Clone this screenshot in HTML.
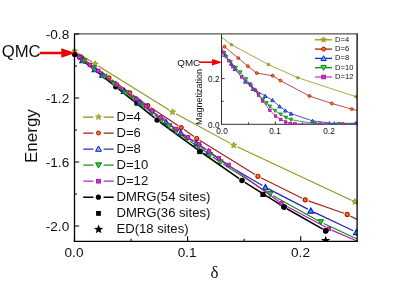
<!DOCTYPE html>
<html><head><meta charset="utf-8"><title>chart</title>
<style>
html,body{margin:0;padding:0;background:#fff;}
#c{position:relative;width:415px;height:290px;overflow:hidden;background:#fff;font-family:"Liberation Sans",sans-serif;color:#111;}
.t{position:absolute;white-space:nowrap;line-height:1.15;}
#tx{position:absolute;left:0;top:0;width:415px;height:290px;transform:translateZ(0);will-change:transform;}
</style></head><body><div id="c">
<svg width="415" height="290" viewBox="0 0 415 290" style="position:absolute;left:0;top:0">
<defs><clipPath id="cm"><rect x="72" y="34" width="285.5" height="207.8"/></clipPath><clipPath id="ci"><rect x="222" y="34" width="135.5" height="90.6"/></clipPath></defs>
<rect width="415" height="290" fill="#fff"/>
<g clip-path="url(#cm)"><path d="M77.48,56.59 L95.00,70.20 M95.00,70.20 L113.14,84.59 M118.45,88.83 L154.55,117.87 M159.94,122.01 L197.26,149.29 M202.79,153.24 L239.21,178.56 M244.88,182.31 L281.12,205.19 M286.95,208.69 L322.75,229.11" fill="none" stroke="#000" stroke-width="1.6"/><circle cx="115.80" cy="86.70" r="2.8" fill="#000" stroke="#000" stroke-width="0"/><circle cx="157.20" cy="120.00" r="2.8" fill="#000" stroke="#000" stroke-width="0"/><circle cx="200.00" cy="151.30" r="2.8" fill="#000" stroke="#000" stroke-width="0"/><circle cx="242.00" cy="180.50" r="2.8" fill="#000" stroke="#000" stroke-width="0"/><circle cx="284.00" cy="207.00" r="2.8" fill="#000" stroke="#000" stroke-width="0"/><circle cx="325.70" cy="230.80" r="2.8" fill="#000" stroke="#000" stroke-width="0"/><rect x="134.40" y="100.40" width="5.20" height="5.20" fill="#000" stroke="#000" stroke-width="0"/><rect x="197.20" y="148.90" width="5.20" height="5.20" fill="#000" stroke="#000" stroke-width="0"/><rect x="260.40" y="191.80" width="5.20" height="5.20" fill="#000" stroke="#000" stroke-width="0"/><polygon points="325.70,235.70 326.91,238.94 330.36,239.09 327.66,241.24 328.58,244.56 325.70,242.66 322.82,244.56 323.74,241.24 321.04,239.09 324.49,238.94" fill="#000" stroke="#000" stroke-width="0"/><path d="M77.71,53.03 L91.89,61.97 M98.33,66.00 L169.27,110.00 M175.84,113.81 L230.36,143.39 M237.14,146.81 L351.46,200.19" fill="none" stroke="#93931e" stroke-width="1.1"/><polygon points="74.50,47.80 75.29,49.91 77.54,50.01 75.78,51.42 76.38,53.59 74.50,52.34 72.62,53.59 73.22,51.42 71.46,50.01 73.71,49.91" fill="#b0b028" stroke="#93931e" stroke-width="0.9"/><polygon points="95.10,60.80 95.89,62.91 98.14,63.01 96.38,64.42 96.98,66.59 95.10,65.34 93.22,66.59 93.82,64.42 92.06,63.01 94.31,62.91" fill="#b0b028" stroke="#93931e" stroke-width="0.9"/><polygon points="172.50,108.80 173.29,110.91 175.54,111.01 173.78,112.42 174.38,114.59 172.50,113.34 170.62,114.59 171.22,112.42 169.46,111.01 171.71,110.91" fill="#b0b028" stroke="#93931e" stroke-width="0.9"/><polygon points="233.70,142.00 234.49,144.11 236.74,144.21 234.98,145.62 235.58,147.79 233.70,146.54 231.82,147.79 232.42,145.62 230.66,144.21 232.91,144.11" fill="#b0b028" stroke="#93931e" stroke-width="0.9"/><polygon points="354.90,198.60 355.69,200.71 357.94,200.81 356.18,202.22 356.78,204.39 354.90,203.14 353.02,204.39 353.62,202.22 351.86,200.81 354.11,200.71" fill="#b0b028" stroke="#93931e" stroke-width="0.9"/><path d="M77.34,54.87 L78.66,55.73 M84.24,59.61 L106.26,75.79 M111.75,79.80 L126.95,90.80 M132.48,94.76 L145.02,103.64 M150.64,107.47 L178.36,125.73 M183.98,129.56 L193.92,136.54 M199.59,140.28 L255.01,174.42 M260.94,177.72 L302.16,198.28 M308.41,200.92 L343.99,213.28 M350.24,215.93 L357.50,219.60" fill="none" stroke="#a42222" stroke-width="1.2"/><circle cx="81.50" cy="57.60" r="2.0" fill="#ff7a08" stroke="#b01408" stroke-width="1.15"/><circle cx="109.00" cy="77.80" r="2.0" fill="#ff7a08" stroke="#b01408" stroke-width="1.15"/><circle cx="129.70" cy="92.80" r="2.0" fill="#ff7a08" stroke="#b01408" stroke-width="1.15"/><circle cx="147.80" cy="105.60" r="2.0" fill="#ff7a08" stroke="#b01408" stroke-width="1.15"/><circle cx="181.20" cy="127.60" r="2.0" fill="#ff7a08" stroke="#b01408" stroke-width="1.15"/><circle cx="196.70" cy="138.50" r="2.0" fill="#ff7a08" stroke="#b01408" stroke-width="1.15"/><circle cx="257.90" cy="176.20" r="2.0" fill="#ff7a08" stroke="#b01408" stroke-width="1.15"/><circle cx="305.20" cy="199.80" r="2.0" fill="#ff7a08" stroke="#b01408" stroke-width="1.15"/><circle cx="347.20" cy="214.40" r="2.0" fill="#ff7a08" stroke="#b01408" stroke-width="1.15"/><path d="M77.23,56.23 L79.97,58.27 M85.45,62.31 L92.25,67.28 M97.73,71.31 L99.77,72.81 M105.23,76.86 L121.47,88.93 M126.94,92.97 L137.26,100.52 M142.71,104.58 L163.29,120.12 M168.74,124.18 L177.96,130.97 M183.54,134.87 L193.56,141.49 M199.20,145.30 L205.70,149.81 M211.29,153.69 L228.20,165.49 M228.20,165.49 L262.47,185.58 M268.42,188.86 L307.78,209.14 M313.88,212.15 L353.32,230.75" fill="none" stroke="#2424b8" stroke-width="1.2"/><polygon points="82.70,57.50 79.76,62.77 85.64,62.77" fill="#18a4ff" stroke="#1616b4" stroke-width="1.1"/><polygon points="95.00,66.49 92.06,71.76 97.94,71.76" fill="#18a4ff" stroke="#1616b4" stroke-width="1.1"/><polygon points="102.50,72.03 99.56,77.30 105.44,77.30" fill="#18a4ff" stroke="#1616b4" stroke-width="1.1"/><polygon points="124.20,88.16 121.26,93.43 127.14,93.43" fill="#18a4ff" stroke="#1616b4" stroke-width="1.1"/><polygon points="140.00,99.73 137.06,105.00 142.94,105.00" fill="#18a4ff" stroke="#1616b4" stroke-width="1.1"/><polygon points="166.00,119.37 163.06,124.64 168.94,124.64" fill="#18a4ff" stroke="#1616b4" stroke-width="1.1"/><polygon points="180.70,130.19 177.75,135.46 183.64,135.46" fill="#18a4ff" stroke="#1616b4" stroke-width="1.1"/><polygon points="196.40,140.57 193.46,145.84 199.34,145.84" fill="#18a4ff" stroke="#1616b4" stroke-width="1.1"/><polygon points="208.50,148.95 205.56,154.22 211.44,154.22" fill="#18a4ff" stroke="#1616b4" stroke-width="1.1"/><polygon points="265.40,184.50 262.45,189.77 268.34,189.77" fill="#18a4ff" stroke="#1616b4" stroke-width="1.1"/><polygon points="310.80,207.90 307.86,213.17 313.75,213.17" fill="#18a4ff" stroke="#1616b4" stroke-width="1.1"/><polygon points="356.40,229.40 353.45,234.67 359.34,234.67" fill="#18a4ff" stroke="#1616b4" stroke-width="1.1"/><path d="M86.71,63.14 L90.79,66.21 M96.20,70.32 L101.70,74.50 M107.09,78.65 L111.11,81.76 M116.51,85.90 L123.29,91.03 M128.72,95.12 L131.28,97.05 M136.70,101.16 L140.80,104.29 M146.20,108.42 L149.30,110.80 M154.66,114.98 L158.94,118.36 M164.30,122.54 L166.30,124.06 M171.70,128.19 L173.30,129.42 M178.77,133.45 L184.23,137.33 M189.86,141.15 L195.74,144.94 M201.36,148.77 L207.04,152.84 M212.57,156.79 L217.53,160.29 M223.17,164.08 L267.33,192.18 M273.17,195.65 L317.73,220.45 M323.78,223.54 L357.50,239.30" fill="none" stroke="#128c12" stroke-width="1.2"/><polygon points="79.00,59.99 76.15,54.89 81.85,54.89" fill="#20d030" stroke="#0a7c0a" stroke-width="1.0"/><polygon points="84.00,63.79 81.15,58.69 86.85,58.69" fill="#20d030" stroke="#0a7c0a" stroke-width="1.0"/><polygon points="93.50,70.96 90.65,65.86 96.35,65.86" fill="#20d030" stroke="#0a7c0a" stroke-width="1.0"/><polygon points="104.40,79.27 101.55,74.17 107.25,74.17" fill="#20d030" stroke="#0a7c0a" stroke-width="1.0"/><polygon points="113.80,86.55 110.95,81.45 116.65,81.45" fill="#20d030" stroke="#0a7c0a" stroke-width="1.0"/><polygon points="126.00,95.78 123.15,90.68 128.85,90.68" fill="#20d030" stroke="#0a7c0a" stroke-width="1.0"/><polygon points="134.00,101.79 131.15,96.69 136.85,96.69" fill="#20d030" stroke="#0a7c0a" stroke-width="1.0"/><polygon points="143.50,109.05 140.65,103.95 146.35,103.95" fill="#20d030" stroke="#0a7c0a" stroke-width="1.0"/><polygon points="152.00,115.57 149.15,110.47 154.85,110.47" fill="#20d030" stroke="#0a7c0a" stroke-width="1.0"/><polygon points="161.60,123.17 158.75,118.07 164.45,118.07" fill="#20d030" stroke="#0a7c0a" stroke-width="1.0"/><polygon points="169.00,128.83 166.15,123.73 171.85,123.73" fill="#20d030" stroke="#0a7c0a" stroke-width="1.0"/><polygon points="176.00,134.18 173.15,129.08 178.85,129.08" fill="#20d030" stroke="#0a7c0a" stroke-width="1.0"/><polygon points="187.00,142.00 184.15,136.90 189.85,136.90" fill="#20d030" stroke="#0a7c0a" stroke-width="1.0"/><polygon points="198.60,149.48 195.75,144.38 201.45,144.38" fill="#20d030" stroke="#0a7c0a" stroke-width="1.0"/><polygon points="209.80,157.52 206.95,152.42 212.65,152.42" fill="#20d030" stroke="#0a7c0a" stroke-width="1.0"/><polygon points="220.30,164.96 217.45,159.86 223.15,159.86" fill="#20d030" stroke="#0a7c0a" stroke-width="1.0"/><polygon points="270.20,196.70 267.35,191.60 273.05,191.60" fill="#20d030" stroke="#0a7c0a" stroke-width="1.0"/><polygon points="320.70,224.80 317.85,219.70 323.55,219.70" fill="#20d030" stroke="#0a7c0a" stroke-width="1.0"/><path d="M81.88,59.00 L87.32,63.00 M92.49,66.77 L95.61,69.03 M100.76,72.82 L114.14,82.88 M119.29,86.68 L133.61,97.12 M138.77,100.91 L143.43,104.39 M148.57,108.21 L149.63,108.99 M154.73,112.86 L158.07,115.44 M163.16,119.33 L173.44,127.07 M178.62,130.84 L185.38,135.56 M190.71,139.10 L196.29,142.60 M201.61,146.15 L206.39,149.55 M211.63,153.23 L216.27,156.47 M221.52,160.13 L225.88,163.17 M231.09,166.88 L278.81,201.52 M284.22,204.91 L325.98,227.29 M331.73,230.08 L357.50,241.30" fill="none" stroke="#ac20ac" stroke-width="1.2"/><rect x="77.50" y="55.30" width="3.60" height="3.60" fill="#e020e0" stroke="#8c108c" stroke-width="0.8"/><rect x="88.10" y="63.10" width="3.60" height="3.60" fill="#e020e0" stroke="#8c108c" stroke-width="0.8"/><rect x="96.40" y="69.10" width="3.60" height="3.60" fill="#e020e0" stroke="#8c108c" stroke-width="0.8"/><rect x="114.90" y="83.00" width="3.60" height="3.60" fill="#e020e0" stroke="#8c108c" stroke-width="0.8"/><rect x="134.40" y="97.20" width="3.60" height="3.60" fill="#e020e0" stroke="#8c108c" stroke-width="0.8"/><rect x="144.20" y="104.50" width="3.60" height="3.60" fill="#e020e0" stroke="#8c108c" stroke-width="0.8"/><rect x="150.40" y="109.10" width="3.60" height="3.60" fill="#e020e0" stroke="#8c108c" stroke-width="0.8"/><rect x="158.80" y="115.60" width="3.60" height="3.60" fill="#e020e0" stroke="#8c108c" stroke-width="0.8"/><rect x="174.20" y="127.20" width="3.60" height="3.60" fill="#e020e0" stroke="#8c108c" stroke-width="0.8"/><rect x="186.20" y="135.60" width="3.60" height="3.60" fill="#e020e0" stroke="#8c108c" stroke-width="0.8"/><rect x="197.20" y="142.50" width="3.60" height="3.60" fill="#e020e0" stroke="#8c108c" stroke-width="0.8"/><rect x="207.20" y="149.60" width="3.60" height="3.60" fill="#e020e0" stroke="#8c108c" stroke-width="0.8"/><rect x="217.10" y="156.50" width="3.60" height="3.60" fill="#e020e0" stroke="#8c108c" stroke-width="0.8"/><rect x="226.70" y="163.20" width="3.60" height="3.60" fill="#e020e0" stroke="#8c108c" stroke-width="0.8"/><rect x="279.60" y="201.60" width="3.60" height="3.60" fill="#e020e0" stroke="#8c108c" stroke-width="0.8"/><rect x="327.00" y="227.00" width="3.60" height="3.60" fill="#e020e0" stroke="#8c108c" stroke-width="0.8"/><circle cx="74.80" cy="54.50" r="2.8" fill="#000" stroke="#000" stroke-width="0"/><circle cx="284.00" cy="207.00" r="2.8" fill="#000" stroke="#000" stroke-width="0"/><circle cx="325.70" cy="230.80" r="2.8" fill="#000" stroke="#000" stroke-width="0"/></g>
<rect x="222" y="34" width="135" height="90" fill="#fff"/>
<path d="M221.5,34 V124.8 M221,124.3 H357" stroke="#333" stroke-width="1" fill="none"/>
<path d="M221.6,101.3 h2 M221.6,78.6 h3 M221.6,55.9 h2 M248.4,124.3 v-2 M275.4,124.3 v-3 M302.4,124.3 v-2 M329.3,124.3 v-3" stroke="#222" stroke-width="0.9" fill="none"/>
<g clip-path="url(#ci)"><path d="M221.50,37.20 L231.40,44.70 M231.40,44.70 L268.40,64.50 M268.40,64.50 L297.80,77.70 M297.80,77.70 L355.90,96.70 M355.90,96.70 L358.00,97.30" fill="none" stroke="#93931e" stroke-width="0.8"/><polygon points="231.40,42.70 231.99,43.89 233.30,44.08 232.35,45.01 232.58,46.32 231.40,45.70 230.22,46.32 230.45,45.01 229.50,44.08 230.81,43.89" fill="#93931e" stroke="#93931e" stroke-width="0.4"/><polygon points="268.40,62.50 268.99,63.69 270.30,63.88 269.35,64.81 269.58,66.12 268.40,65.50 267.22,66.12 267.45,64.81 266.50,63.88 267.81,63.69" fill="#93931e" stroke="#93931e" stroke-width="0.4"/><polygon points="297.80,75.70 298.39,76.89 299.70,77.08 298.75,78.01 298.98,79.32 297.80,78.70 296.62,79.32 296.85,78.01 295.90,77.08 297.21,76.89" fill="#93931e" stroke="#93931e" stroke-width="0.4"/><polygon points="355.90,94.70 356.49,95.89 357.80,96.08 356.85,97.01 357.08,98.32 355.90,97.70 354.72,98.32 354.95,97.01 354.00,96.08 355.31,95.89" fill="#93931e" stroke="#93931e" stroke-width="0.4"/><path d="M221.50,48.80 L224.50,46.70 M224.50,46.70 L238.30,58.10 M238.30,58.10 L247.80,66.20 M247.80,66.20 L256.80,73.10 M256.80,73.10 L272.70,75.70 M272.70,75.70 L280.40,80.60 M280.40,80.60 L309.40,96.00 M309.40,96.00 L331.90,103.50 M331.90,103.50 L351.70,109.10 M351.70,109.10 L357.50,110.60" fill="none" stroke="#a42222" stroke-width="0.8"/><circle cx="224.50" cy="46.70" r="1.45" fill="#ff7a08" stroke="#b01408" stroke-width="0.8"/><circle cx="238.30" cy="58.10" r="1.45" fill="#ff7a08" stroke="#b01408" stroke-width="0.8"/><circle cx="247.80" cy="66.20" r="1.45" fill="#ff7a08" stroke="#b01408" stroke-width="0.8"/><circle cx="256.80" cy="73.10" r="1.45" fill="#ff7a08" stroke="#b01408" stroke-width="0.8"/><circle cx="272.70" cy="75.70" r="1.45" fill="#ff7a08" stroke="#b01408" stroke-width="0.8"/><circle cx="280.40" cy="80.60" r="1.45" fill="#ff7a08" stroke="#b01408" stroke-width="0.8"/><circle cx="309.40" cy="96.00" r="1.45" fill="#ff7a08" stroke="#b01408" stroke-width="0.8"/><circle cx="331.90" cy="103.50" r="1.45" fill="#ff7a08" stroke="#b01408" stroke-width="0.8"/><circle cx="351.70" cy="109.10" r="1.45" fill="#ff7a08" stroke="#b01408" stroke-width="0.8"/><path d="M221.50,48.50 L225.41,55.26 M225.41,55.26 L231.20,63.75 M231.20,63.75 L234.87,68.84 M234.87,68.84 L245.22,81.61 M245.22,81.61 L252.87,88.88 M252.87,88.88 L265.16,95.93 M265.16,95.93 L272.54,100.14 M272.54,100.14 L279.60,106.40 M279.60,106.40 L285.37,110.58 M285.37,110.58 L291.03,113.61 M291.03,113.61 L312.59,120.90 M312.59,120.90 L334.42,123.48 M334.42,123.48 L355.98,123.20" fill="none" stroke="#2424b8" stroke-width="0.8"/><polygon points="225.41,53.56 223.60,56.79 227.21,56.79" fill="#18a4ff" stroke="#1616b4" stroke-width="0.8"/><polygon points="231.20,62.05 229.40,65.28 233.01,65.28" fill="#18a4ff" stroke="#1616b4" stroke-width="0.8"/><polygon points="234.87,67.14 233.06,70.37 236.67,70.37" fill="#18a4ff" stroke="#1616b4" stroke-width="0.8"/><polygon points="245.22,79.91 243.41,83.14 247.02,83.14" fill="#18a4ff" stroke="#1616b4" stroke-width="0.8"/><polygon points="252.87,87.18 251.06,90.41 254.67,90.41" fill="#18a4ff" stroke="#1616b4" stroke-width="0.8"/><polygon points="265.16,94.23 263.35,97.46 266.96,97.46" fill="#18a4ff" stroke="#1616b4" stroke-width="0.8"/><polygon points="272.54,98.44 270.74,101.67 274.35,101.67" fill="#18a4ff" stroke="#1616b4" stroke-width="0.8"/><polygon points="279.60,104.70 277.80,107.93 281.41,107.93" fill="#18a4ff" stroke="#1616b4" stroke-width="0.8"/><polygon points="285.37,108.88 283.57,112.11 287.18,112.11" fill="#18a4ff" stroke="#1616b4" stroke-width="0.8"/><polygon points="291.03,111.91 289.23,115.14 292.84,115.14" fill="#18a4ff" stroke="#1616b4" stroke-width="0.8"/><polygon points="312.59,119.20 310.79,122.43 314.40,122.43" fill="#18a4ff" stroke="#1616b4" stroke-width="0.8"/><polygon points="334.42,121.78 332.62,125.01 336.23,125.01" fill="#18a4ff" stroke="#1616b4" stroke-width="0.8"/><polygon points="355.98,121.50 354.18,124.73 357.79,124.73" fill="#18a4ff" stroke="#1616b4" stroke-width="0.8"/><path d="M221.50,48.50 L223.64,52.79 M223.64,52.79 L226.03,56.71 M226.03,56.71 L230.55,62.06 M230.55,62.06 L235.75,67.65 M235.75,67.65 L240.23,72.33 M240.23,72.33 L246.04,79.18 M246.04,79.18 L249.86,84.27 M249.86,84.27 L254.38,89.74 M254.38,89.74 L258.43,94.36 M258.43,94.36 L263.01,99.56 M263.01,99.56 L266.54,103.14 M266.54,103.14 L269.87,106.47 M269.87,106.47 L275.11,110.80 M275.11,110.80 L280.64,114.43 M280.64,114.43 L285.98,117.63 M285.98,117.63 L290.98,119.68 M290.98,119.68 L314.75,123.61 M314.75,123.61 L338.84,123.91 M338.84,123.91 L357.50,124.00" fill="none" stroke="#128c12" stroke-width="0.8"/><polygon points="223.64,54.49 221.84,51.26 225.45,51.26" fill="#20d030" stroke="#0a7c0a" stroke-width="0.7"/><polygon points="226.03,58.41 224.22,55.18 227.83,55.18" fill="#20d030" stroke="#0a7c0a" stroke-width="0.7"/><polygon points="230.55,63.76 228.75,60.53 232.36,60.53" fill="#20d030" stroke="#0a7c0a" stroke-width="0.7"/><polygon points="235.75,69.35 233.94,66.12 237.55,66.12" fill="#20d030" stroke="#0a7c0a" stroke-width="0.7"/><polygon points="240.23,74.03 238.42,70.80 242.03,70.80" fill="#20d030" stroke="#0a7c0a" stroke-width="0.7"/><polygon points="246.04,80.88 244.24,77.65 247.85,77.65" fill="#20d030" stroke="#0a7c0a" stroke-width="0.7"/><polygon points="249.86,85.97 248.05,82.74 251.66,82.74" fill="#20d030" stroke="#0a7c0a" stroke-width="0.7"/><polygon points="254.38,91.44 252.58,88.21 256.19,88.21" fill="#20d030" stroke="#0a7c0a" stroke-width="0.7"/><polygon points="258.43,96.06 256.63,92.83 260.24,92.83" fill="#20d030" stroke="#0a7c0a" stroke-width="0.7"/><polygon points="263.01,101.26 261.20,98.03 264.81,98.03" fill="#20d030" stroke="#0a7c0a" stroke-width="0.7"/><polygon points="266.54,104.84 264.73,101.61 268.34,101.61" fill="#20d030" stroke="#0a7c0a" stroke-width="0.7"/><polygon points="269.87,108.17 268.07,104.94 271.68,104.94" fill="#20d030" stroke="#0a7c0a" stroke-width="0.7"/><polygon points="275.11,112.50 273.31,109.27 276.92,109.27" fill="#20d030" stroke="#0a7c0a" stroke-width="0.7"/><polygon points="280.64,116.13 278.84,112.90 282.45,112.90" fill="#20d030" stroke="#0a7c0a" stroke-width="0.7"/><polygon points="285.98,119.33 284.17,116.10 287.78,116.10" fill="#20d030" stroke="#0a7c0a" stroke-width="0.7"/><polygon points="290.98,121.38 289.18,118.15 292.79,118.15" fill="#20d030" stroke="#0a7c0a" stroke-width="0.7"/><polygon points="314.75,125.31 312.94,122.08 316.55,122.08" fill="#20d030" stroke="#0a7c0a" stroke-width="0.7"/><polygon points="338.84,125.61 337.04,122.38 340.65,122.38" fill="#20d030" stroke="#0a7c0a" stroke-width="0.7"/><path d="M221.50,48.50 L223.79,52.66 M223.79,52.66 L228.84,60.67 M228.84,60.67 L232.79,66.69 M232.79,66.69 L241.61,76.95 M241.61,76.95 L250.90,85.12 M250.90,85.12 L255.57,90.51 M255.57,90.51 L258.53,95.22 M258.53,95.22 L262.53,100.95 M262.53,100.95 L269.87,110.33 M269.87,110.33 L275.59,116.01 M275.59,116.01 L280.83,119.49 M280.83,119.49 L285.60,122.00 M285.60,122.00 L290.32,123.47 M290.32,123.47 L294.89,123.96 M294.89,123.96 L320.10,124.00 M320.10,124.00 L342.69,124.00 M342.69,124.00 L357.50,124.00" fill="none" stroke="#ac20ac" stroke-width="0.8"/><rect x="222.49" y="51.36" width="2.60" height="2.60" fill="#e020e0" stroke="#8c108c" stroke-width="0.6"/><rect x="227.54" y="59.37" width="2.60" height="2.60" fill="#e020e0" stroke="#8c108c" stroke-width="0.6"/><rect x="231.49" y="65.39" width="2.60" height="2.60" fill="#e020e0" stroke="#8c108c" stroke-width="0.6"/><rect x="240.31" y="75.65" width="2.60" height="2.60" fill="#e020e0" stroke="#8c108c" stroke-width="0.6"/><rect x="249.60" y="83.82" width="2.60" height="2.60" fill="#e020e0" stroke="#8c108c" stroke-width="0.6"/><rect x="254.27" y="89.21" width="2.60" height="2.60" fill="#e020e0" stroke="#8c108c" stroke-width="0.6"/><rect x="257.23" y="93.92" width="2.60" height="2.60" fill="#e020e0" stroke="#8c108c" stroke-width="0.6"/><rect x="261.23" y="99.65" width="2.60" height="2.60" fill="#e020e0" stroke="#8c108c" stroke-width="0.6"/><rect x="268.57" y="109.03" width="2.60" height="2.60" fill="#e020e0" stroke="#8c108c" stroke-width="0.6"/><rect x="274.29" y="114.71" width="2.60" height="2.60" fill="#e020e0" stroke="#8c108c" stroke-width="0.6"/><rect x="279.53" y="118.19" width="2.60" height="2.60" fill="#e020e0" stroke="#8c108c" stroke-width="0.6"/><rect x="284.30" y="120.70" width="2.60" height="2.60" fill="#e020e0" stroke="#8c108c" stroke-width="0.6"/><rect x="289.02" y="122.17" width="2.60" height="2.60" fill="#e020e0" stroke="#8c108c" stroke-width="0.6"/><rect x="293.59" y="122.66" width="2.60" height="2.60" fill="#e020e0" stroke="#8c108c" stroke-width="0.6"/><rect x="318.80" y="122.70" width="2.60" height="2.60" fill="#e020e0" stroke="#8c108c" stroke-width="0.6"/><rect x="341.39" y="122.70" width="2.60" height="2.60" fill="#e020e0" stroke="#8c108c" stroke-width="0.6"/></g>
<g stroke="#000" stroke-width="1.3" fill="none">
<path d="M74.5,33.3 V241.9"/>
<path d="M73.8,241.4 H357.8"/>
<path d="M357.1,241.9 V33.3"/>
</g>
<path d="M74,33.8 H357.8" stroke="#555" stroke-width="1.2" fill="none"/>
<path d="M74.5,34.0 h4.7 M74.5,66.0 h2.5 M74.5,98.0 h4.7 M74.5,130.0 h2.5 M74.5,162.0 h4.7 M74.5,194.0 h2.5 M74.5,226.0 h4.7 M74.5,241.4 v-5.1 M131.1,241.4 v-2.7 M187.6,241.4 v-5.1 M244.2,241.4 v-2.7 M300.7,241.4 v-5.1" stroke="#000" stroke-width="1.1" fill="none"/>
<path d="M39.8,53 H63" stroke="#f00000" stroke-width="2.5"/><polygon points="61.3,48.3 75.6,53 61.3,57.7" fill="#f00000"/>
<path d="M199,62.2 H214" stroke="#f00000" stroke-width="1.6"/><polygon points="212,58.9 222.3,62.2 212,65.5" fill="#f00000"/>
<path d="M83.2,117.0 H93.4 M103.6,117.0 H113.7" stroke="#8c8c18" stroke-width="1.25"/><polygon points="98.50,113.90 99.27,115.95 101.45,116.04 99.74,117.40 100.32,119.51 98.50,118.30 96.68,119.51 97.26,117.40 95.55,116.04 97.73,115.95" fill="#b0b028" stroke="#93931e" stroke-width="0.8"/>
<path d="M83.2,133.0 H93.4 M103.6,133.0 H113.7" stroke="#a82020" stroke-width="1.25"/><circle cx="98.50" cy="133.00" r="2.0" fill="#ff7a08" stroke="#b01408" stroke-width="1.0"/>
<path d="M83.2,149.0 H93.4 M103.6,149.0 H113.7" stroke="#3030c0" stroke-width="1.25"/><polygon points="98.50,146.00 95.56,151.27 101.44,151.27" fill="#7cc8ff" stroke="#1616b4" stroke-width="1.0"/>
<path d="M83.2,165.0 H93.4 M103.6,165.0 H113.7" stroke="#169416" stroke-width="1.25"/><polygon points="98.50,168.10 95.56,162.83 101.44,162.83" fill="#30d040" stroke="#0a7c0a" stroke-width="1.0"/>
<path d="M83.2,181.2 H93.4 M103.6,181.2 H113.7" stroke="#b824b8" stroke-width="1.25"/><rect x="96.60" y="179.30" width="3.80" height="3.80" fill="#e020e0" stroke="#8c108c" stroke-width="0.8"/>
<path d="M83.2,197.2 H93.4 M103.6,197.2 H113.7" stroke="#000" stroke-width="1.5"/><circle cx="98.40" cy="197.20" r="2.6" fill="#000" stroke="#000" stroke-width="0"/>
<rect x="96.10" y="211.00" width="4.80" height="4.80" fill="#000" stroke="#000" stroke-width="0"/>
<polygon points="98.60,224.50 99.81,227.74 103.26,227.89 100.56,230.04 101.48,233.36 98.60,231.46 95.72,233.36 96.64,230.04 93.94,227.89 97.39,227.74" fill="#000" stroke="#000" stroke-width="0"/>
<path d="M315,39.8 H332" stroke="#93931e" stroke-width="1.3"/><polygon points="323.60,36.70 324.37,38.75 326.55,38.84 324.84,40.20 325.42,42.31 323.60,41.10 321.78,42.31 322.36,40.20 320.65,38.84 322.83,38.75" fill="#a0a020" stroke="#93931e" stroke-width="0.6"/>
<path d="M315,49.1 H332" stroke="#a42222" stroke-width="1.3"/><circle cx="323.60" cy="49.10" r="2.0" fill="#ff7a08" stroke="#b01408" stroke-width="1.0"/>
<path d="M315,58.4 H332" stroke="#2424b8" stroke-width="1.3"/><polygon points="323.60,55.70 320.85,60.63 326.36,60.63" fill="#35c8ff" stroke="#2424b8" stroke-width="1.0"/>
<path d="M315,67.7 H332" stroke="#128c12" stroke-width="1.3"/><polygon points="323.60,70.40 320.85,65.47 326.36,65.47" fill="#40e040" stroke="#128c12" stroke-width="1.0"/>
<path d="M315,77.0 H332" stroke="#c048c0" stroke-width="1.3"/><rect x="321.80" y="75.20" width="3.60" height="3.60" fill="#e828e8" stroke="#9c109c" stroke-width="0.9"/>
</svg>
<div id="tx">
<div class="t" style="left:1.7px;top:41.9px;font-size:16.7px;">QMC</div>
<div class="t" style="right:345.8px;top:26.8px;font-size:13.6px;">-0.8</div>
<div class="t" style="right:345.8px;top:90.8px;font-size:13.6px;">-1.2</div>
<div class="t" style="right:345.8px;top:154.8px;font-size:13.6px;">-1.6</div>
<div class="t" style="right:345.8px;top:218.8px;font-size:13.6px;">-2.0</div>
<div class="t" style="left:74.0px;top:245.4px;font-size:13.6px;transform:translateX(-50%);">0.0</div>
<div class="t" style="left:187.1px;top:245.4px;font-size:13.6px;transform:translateX(-50%);">0.1</div>
<div class="t" style="left:300.5px;top:245.4px;font-size:13.6px;transform:translateX(-50%);">0.2</div>
<div class="t" style="left:116.5px;top:109.0px;font-size:13.1px;">D=4</div>
<div class="t" style="left:116.5px;top:125.0px;font-size:13.1px;">D=6</div>
<div class="t" style="left:116.5px;top:141.1px;font-size:13.1px;">D=8</div>
<div class="t" style="left:116.5px;top:157.2px;font-size:13.1px;">D=10</div>
<div class="t" style="left:116.5px;top:173.2px;font-size:13.1px;">D=12</div>
<div class="t" style="left:116.5px;top:189.2px;font-size:13.1px;">DMRG(54 sites)</div>
<div class="t" style="left:116.5px;top:205.2px;font-size:13.1px;">DMRG(36 sites)</div>
<div class="t" style="left:116.5px;top:221.3px;font-size:13.1px;">ED(18 sites)</div>
<div class="t" style="left:210.5px;top:263.4px;font-size:17px;font-family:'Liberation Serif',serif">δ</div>
<div class="t" style="left:22.2px;top:163px;font-size:17px;transform-origin:0 0;transform:rotate(-90deg)">Energy</div>
<div class="t" style="left:177.3px;top:56.7px;font-size:9.8px;">QMC</div>
<div class="t" style="right:195.2px;top:72.68px;font-size:9.8px;transform-origin:100% 50%;transform:scaleX(0.85);">0.2</div>
<div class="t" style="right:195.2px;top:119.18px;font-size:9.8px;transform-origin:100% 50%;transform:scaleX(0.85);">0.0</div>
<div class="t" style="left:222.0px;top:125.18px;font-size:9.8px;transform:translateX(-50%) scaleX(0.85);">0.0</div>
<div class="t" style="left:274.8px;top:125.18px;font-size:9.8px;transform:translateX(-50%) scaleX(0.85);">0.1</div>
<div class="t" style="left:329.3px;top:125.18px;font-size:9.8px;transform:translateX(-50%) scaleX(0.85);">0.2</div>
<div class="t" style="left:194px;top:125px;font-size:9px;transform-origin:0 0;transform:rotate(-90deg)">Magnetization</div>
<div class="t" style="left:335.0px;top:35.8px;font-size:7.6px;">D=4</div>
<div class="t" style="left:335.0px;top:45.1px;font-size:7.6px;">D=6</div>
<div class="t" style="left:335.0px;top:54.4px;font-size:7.6px;">D=8</div>
<div class="t" style="left:335.0px;top:63.7px;font-size:7.6px;">D=10</div>
<div class="t" style="left:335.0px;top:73.0px;font-size:7.6px;">D=12</div>
</div>
</div></body></html>
